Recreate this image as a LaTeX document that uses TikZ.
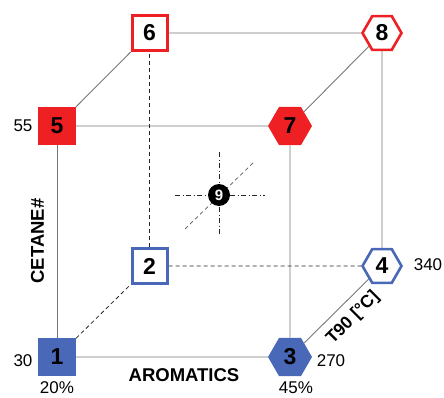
\documentclass[tikz,border=0pt]{standalone}
\usepackage{fontspec}
\setmainfont{Liberation Sans}
\usetikzlibrary{shapes.geometric,backgrounds}
\definecolor{cred}{HTML}{EE2024}
\definecolor{cblue}{HTML}{4A68B8}
\definecolor{cedge}{HTML}{777777}
\tikzset{
  num/.style={font=\fontsize{23}{23}\selectfont\bfseries, inner sep=0pt, text=black},
  sqfill/.style={num, rectangle, minimum size=35pt, line width=3pt, draw=#1, fill=#1},
  sqline/.style={num, rectangle, minimum size=35pt, line width=3pt, draw=#1, fill=white},
  hexfill/.style={num, regular polygon, regular polygon sides=6, minimum size=44pt, draw=none, fill=#1},
  hexline/.style={num, regular polygon, regular polygon sides=6, minimum size=39pt, line width=2.6pt, draw=#1, fill=white},
  edge/.style={draw=cedge, line width=0.9pt},
  hidden/.style={draw=black!85, line width=0.8pt, dash pattern=on 4pt off 3pt},
  lab/.style={font=\fontsize{17}{17}\selectfont, inner sep=0pt},
  axis/.style={font=\fontsize{18.5}{18.5}\selectfont\bfseries, inner sep=0pt},
  cross/.style={draw=black!85, line width=0.7pt, dash pattern=on 5pt off 2.5pt on 1pt off 2.5pt},
  diag/.style={draw=black!65, line width=0.7pt, dash pattern=on 4pt off 3pt}
}
\begin{document}
\begin{tikzpicture}[x=1pt,y=1pt]
\useasboundingbox (0,0) rectangle (444,397);
% vertices
\node[sqfill=cblue] (n1) at (57,40) {1};
\node[sqline=cblue] (n2) at (149.5,131) {2};
\node[hexfill=cblue] (n3) at (290,40) {3};
\node[hexline=cblue] (n4) at (382,131) {4};
\node[sqfill=cred] (n5) at (57,271) {5};
\node[sqline=cred] (n6) at (149.5,364) {6};
\node[hexfill=cred] (n7) at (290,271) {7};
\node[hexline=cred] (n8) at (382,364) {8};
\node[circle, fill=black, minimum size=22pt, inner sep=0pt, text=white, font=\fontsize{15}{15}\selectfont\bfseries] (n9) at (219,202) {9};
\begin{scope}[on background layer]
  \draw[edge] (n1) -- (n3);
  \draw[edge] (n1) -- (n5);
  \draw[edge] (n5) -- (n7);
  \draw[edge] (n5) -- (n6);
  \draw[edge] (n6) -- (n8);
  \draw[edge] (n7) -- (n8);
  \draw[edge] (n8) -- (n4);
  \draw[edge] (n3) -- (n4);
  \draw[edge] (n7) -- (n3);
  \draw[hidden] (n2) -- (n6);
  \draw[hidden] (n2) -- (n4);
  \draw[hidden] (n1) -- (n2);
  % crosshair at point 9
  \coordinate (hl) at (175,202);
  \coordinate (hr) at (265,202);
  \coordinate (vt) at (219,245);
  \coordinate (vb) at (219,161);
  \coordinate (dl) at (185,168);
  \coordinate (dr) at (255,236);
  \draw[cross] (hl) -- (hr);
  \draw[cross] (vt) -- (vb);
  \draw[diag] (dl) -- (dr);
\end{scope}
% value labels
\node[lab] (l55) at (23,271) {55};
\node[lab] (l30) at (23,36) {30};
\node[lab] (l20) at (57,9) {20\%};
\node[lab] (l45) at (296,9) {45\%};
\node[lab] (l270) at (331,36) {270};
\node[lab] (l340) at (428,132) {340};
% axis labels
\node[axis] (arom) at (184,22) {AROMATICS};
\node[axis, rotate=90] (cet) at (37.5,156) {CETANE\#};
\node[axis, font=\fontsize{17.5}{17.5}\selectfont\bfseries, rotate=45] (t90) at (353,79) {T90 [°C]};
\end{tikzpicture}
\end{document}
